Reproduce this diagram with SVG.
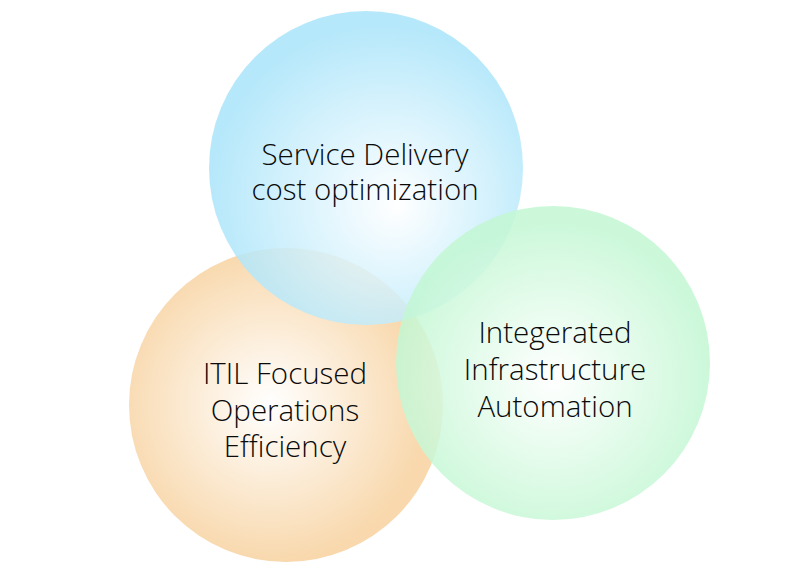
<svg xmlns="http://www.w3.org/2000/svg" width="800" height="583" viewBox="0 0 800 583">
  <defs>
    <radialGradient id="gOrange" cx="0.45" cy="0.5" r="0.5" fx="0.45" fy="0.5">
      <stop offset="0" stop-color="#ffffff"/>
      <stop offset="1" stop-color="#f8d6a8"/>
    </radialGradient>
    <radialGradient id="gBlue" cx="0.55" cy="0.6" r="0.55" fx="0.6" fy="0.62">
      <stop offset="0" stop-color="#ffffff"/>
      <stop offset="1" stop-color="#a9e4fa"/>
    </radialGradient>
    <radialGradient id="gGreen" cx="0.5" cy="0.55" r="0.5" fx="0.5" fy="0.55">
      <stop offset="0" stop-color="#ffffff"/>
      <stop offset="1" stop-color="#c3f7d3"/>
    </radialGradient>
  </defs>
  <style>
    .lbl { font-family: "Open Sans", "Noto Sans", "Liberation Sans", sans-serif; font-weight: 300; font-size: 29.5px; fill: #0a0a0a; text-anchor: middle; }
  </style>
  <rect width="800" height="583" fill="#ffffff"/>
  <g id="node-itil">
    <circle cx="286" cy="405" r="157" fill="url(#gOrange)" opacity="0.95"/>
  </g>
  <g id="node-service">
    <circle cx="366" cy="168" r="157" fill="url(#gBlue)" opacity="0.85"/>
  </g>
  <g id="node-infra">
    <circle cx="553" cy="363" r="157" fill="url(#gGreen)" opacity="0.85"/>
  </g>
  <g id="connectors"></g>
  <g id="labels">
    <text class="lbl" x="365" y="165">Service Delivery</text>
    <text class="lbl" x="365" y="200">cost optimization</text>
    <text class="lbl" x="285" y="384">ITIL Focused</text>
    <text class="lbl" x="285" y="421">Operations</text>
    <text class="lbl" x="285" y="457">Efficiency</text>
    <text class="lbl" x="555" y="343">Integerated</text>
    <text class="lbl" x="555" y="380">Infrastructure</text>
    <text class="lbl" x="555" y="417">Automation</text>
  </g>
</svg>
